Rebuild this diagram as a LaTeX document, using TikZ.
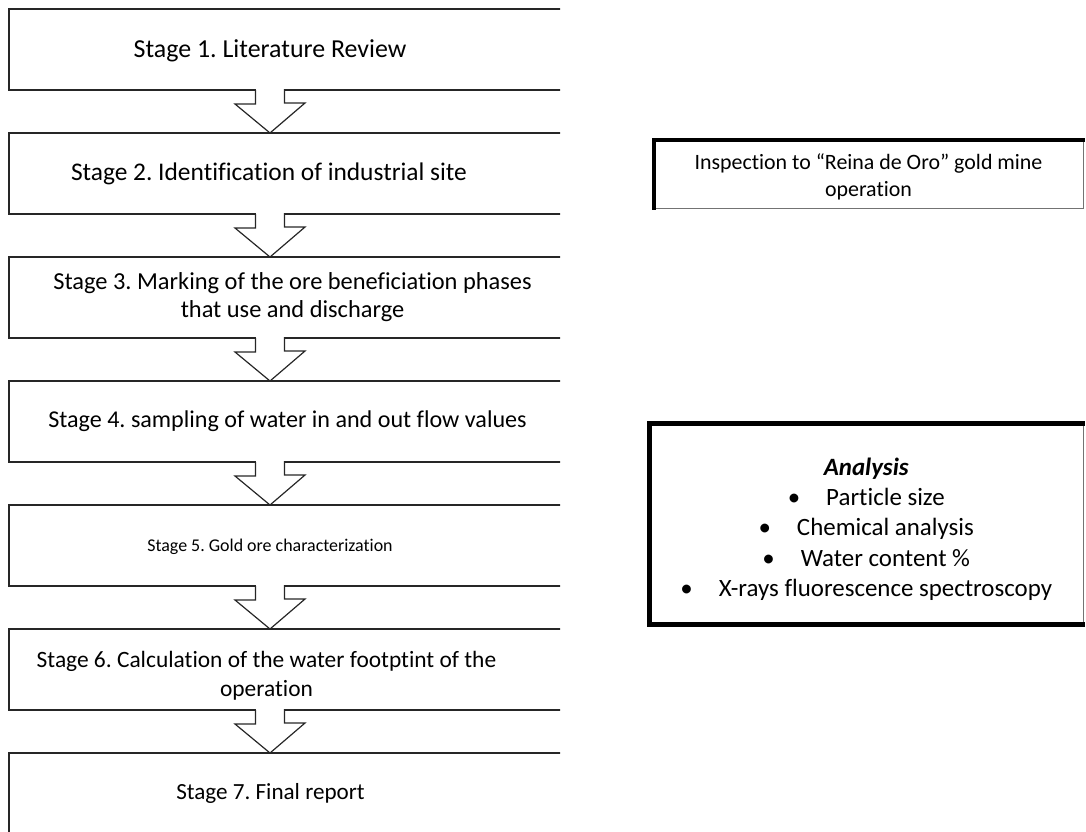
\documentclass[tikz,border=0pt]{standalone}
\usepackage{fontspec}
\setmainfont{Carlito}[Ligatures=NoCommon]
\frenchspacing
\tikzset{stagebox/.style={draw=black!85,line width=1.2bp,minimum width=566bp,minimum height=81bp,inner sep=0pt,outer sep=0pt},
    stagetext/.style={align=center,inner sep=0pt,font=\fontsize{24.5}{28}\selectfont},
    flowarrow/.style={draw=black!85,line width=1.2bp,line join=miter},
    notebox/.style={draw=black!55,line width=0.8bp,inner sep=0pt,outer sep=0pt,align=center},
    heavy/.style={line width=4.5bp,line cap=rect}}
\newcommand{\stagearrow}[3]{%
    \fill[white] (#1.south -| #3) ++(-14.5,-1) rectangle ++(29,15);
    \draw[flowarrow] (#1.south -| #3) ++(-14.5,0) -- ++(0,14) -- ++(-20.5,0) -- (#2.north -| #3)
        -- ++(35,-30) -- ++(-20.5,0) -- ++(0,-14);}
\begin{document}
\begin{tikzpicture}[x=1bp,y=-1bp]
\useasboundingbox (0,0) rectangle (1086,832);
\begin{scope}
\clip (0,0) rectangle (560,832);
\node[stagebox] (stage1) at (292,49.5) {};
\node[stagebox] (stage2) at (292,173.5) {};
\node[stagebox] (stage3) at (292,297.5) {};
\node[stagebox] (stage4) at (292,421.5) {};
\node[stagebox] (stage5) at (292,545.5) {};
\node[stagebox] (stage6) at (292,669.5) {};
\node[stagebox] (stage7) at (292,793.5) {};
\node[stagetext,font=\fontsize{26}{28}\selectfont] (stage1t) at (270,50.5) {Stage 1. Literature Review};
\node[stagetext,font=\fontsize{25.5}{28}\selectfont] (stage2t) at (269,174) {Stage 2. Identification of industrial site};
\node[stagetext,font=\fontsize{24.5}{28.5}\selectfont] (stage3t) at (292.5,297) {Stage 3. Marking of the ore beneficiation phases\\that use and discharge};
\node[stagetext,font=\fontsize{24.2}{28}\selectfont] (stage4t) at (287.5,421) {Stage 4. sampling of water in and out flow values};
\node[stagetext,font=\fontsize{18}{28}\selectfont] (stage5t) at (270,547) {Stage 5. Gold ore characterization};
\node[stagetext,font=\fontsize{23.5}{29}\selectfont] (stage6t) at (266.5,676) {Stage 6. Calculation of the water footptint of the\\operation};
\node[stagetext,font=\fontsize{23.2}{28}\selectfont] (stage7t) at (270.5,793) {Stage 7. Final report};
\stagearrow{stage1}{stage2}{stage1t}
\stagearrow{stage2}{stage3}{stage1t}
\stagearrow{stage3}{stage4}{stage1t}
\stagearrow{stage4}{stage5}{stage1t}
\stagearrow{stage5}{stage6}{stage1t}
\stagearrow{stage6}{stage7}{stage1t}
\end{scope}
\node[notebox,minimum width=429bp,minimum height=68bp,font=\fontsize{22}{27}\selectfont] (visit) at (868.5,174)
    {\rule{0pt}{22bp}Inspection to “Reina de Oro” gold mine\\operation};
\draw[heavy] (visit.south west) -- (visit.north west) -- (visit.north east);
\node[notebox,minimum width=433.5bp,minimum height=201bp,font=\fontsize{25}{30.3}\selectfont] (tests) at (866.25,524)
    {\rule{0pt}{28bp}{\bfseries\itshape Analysis}\\
    \textbullet\hspace{26bp}Particle size\\
    \textbullet\hspace{26bp}Chemical analysis\\
    \textbullet\hspace{26bp}Water content \%\\
    \textbullet\hspace{26bp}X-rays fluorescence spectroscopy};
\draw[heavy] (tests.north east) -- (tests.north west) -- (tests.south west) -- (tests.south east);
\end{tikzpicture}
\end{document}
